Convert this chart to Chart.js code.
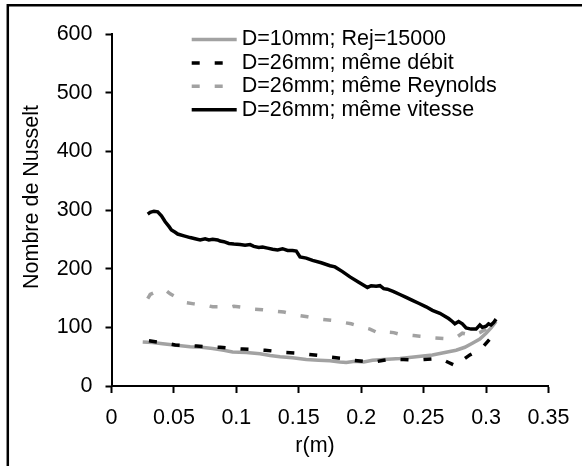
<!DOCTYPE html>
<html>
<head>
<meta charset="utf-8">
<script src="https://cdn.jsdelivr.net/npm/chart.js@4.4.1/dist/chart.umd.min.js"></script>
<style>
  html, body { margin: 0; padding: 0; background: #fff; }
  #wrap { width: 582px; height: 466px; }
</style>
</head>
<body>
<div id="wrap"><canvas id="chart" width="582" height="466"></canvas></div>
<script>
// DATA
const seriesLabels = [
  "D=10mm; Rej=15000",
  "D=26mm; même débit",
  "D=26mm; même Reynolds",
  "D=26mm; même vitesse",
];
const xTickLabels = ["0", "0.05", "0.1", "0.15", "0.2", "0.25", "0.3", "0.35"];
const yTickLabels = ["0", "100", "200", "300", "400", "500", "600"];

// D=10mm; Rej=15000 (gris continu)
const rD10 = [0.025, 0.033, 0.041, 0.050, 0.063, 0.072, 0.081, 0.090, 0.097, 0.108, 0.119, 0.127, 0.135, 0.145,
  0.156, 0.166, 0.175, 0.183, 0.188, 0.195, 0.202, 0.209, 0.218, 0.231, 0.244, 0.257, 0.267, 0.276, 0.283,
  0.289, 0.295, 0.300, 0.304, 0.308];
const nuD10 = [75, 74, 72, 70, 67, 66, 64, 61, 58, 57, 55, 52, 50, 48,
  45, 44, 43, 41, 40, 42, 41, 44, 45, 47, 50, 53, 57, 61, 66,
  73, 80, 90, 99, 110];

// D=26mm; même débit (noir pointillé)
const rDebit = [0.030, 0.040, 0.051, 0.060, 0.068, 0.078, 0.087, 0.096, 0.105, 0.114, 0.123, 0.132, 0.140, 0.149,
  0.157, 0.166, 0.176, 0.185, 0.193, 0.202, 0.211, 0.218, 0.225, 0.234, 0.243, 0.250, 0.257, 0.264, 0.270,
  0.276, 0.281, 0.287, 0.293, 0.298, 0.303, 0.308];
const nuDebit = [77, 74, 70, 69, 68, 67, 66, 64, 63, 62, 61, 59, 57, 56,
  54, 52, 49, 47, 44, 42, 41, 44, 46, 45, 44, 45, 46, 46, 40,
  34, 44, 53, 60, 68, 80, 97];

// D=26mm; même Reynolds (gris pointillé)
const rReynolds = [0.029, 0.031, 0.035, 0.040, 0.043, 0.047, 0.053, 0.060, 0.066, 0.071, 0.077, 0.081, 0.088, 0.095,
  0.098, 0.105, 0.113, 0.121, 0.129, 0.138, 0.148, 0.157, 0.167, 0.176, 0.184, 0.192, 0.200, 0.207, 0.215,
  0.220, 0.226, 0.231, 0.236, 0.242, 0.247, 0.253, 0.259, 0.266, 0.272, 0.277, 0.281, 0.285, 0.288, 0.292,
  0.295, 0.300, 0.304, 0.307];
const nuReynolds = [149, 156, 160, 163, 164, 157, 150, 142, 140, 138, 137, 135, 135, 134,
  136, 134, 131, 130, 128, 126, 121, 118, 114, 112, 109, 106, 101, 97, 89,
  92, 91, 88, 87, 86, 85, 84, 82, 81, 81, 84, 90, 88, 86, 88,
  91, 97, 102, 107];

// D=26mm; même vitesse (noir continu)
const rVitesse = [0.029, 0.031, 0.034, 0.037, 0.040, 0.043, 0.046, 0.048, 0.051, 0.053, 0.058, 0.063, 0.067, 0.071,
  0.075, 0.078, 0.081, 0.085, 0.087, 0.090, 0.094, 0.098, 0.103, 0.107, 0.111, 0.114, 0.118, 0.121, 0.125,
  0.129, 0.133, 0.137, 0.141, 0.145, 0.148, 0.151, 0.156, 0.161, 0.168, 0.175, 0.179, 0.185, 0.191, 0.198,
  0.205, 0.208, 0.212, 0.215, 0.218, 0.221, 0.226, 0.231, 0.236, 0.241, 0.246, 0.252, 0.257, 0.263, 0.267,
  0.270, 0.273, 0.275, 0.278, 0.281, 0.284, 0.288, 0.292, 0.295, 0.297, 0.300, 0.302, 0.304, 0.306, 0.308];
const nuVitesse = [293, 296, 298, 297, 290, 280, 272, 266, 262, 259, 256, 253, 251, 249,
  251, 249, 250, 249, 247, 246, 243, 242, 241, 240, 241, 238, 236, 237, 235,
  233, 232, 234, 231, 231, 230, 220, 218, 214, 210, 205, 203, 195, 186, 177,
  168, 171, 170, 171, 166, 165, 161, 156, 151, 146, 141, 135, 129, 124, 119,
  115, 110, 106, 110, 106, 99, 97, 97, 104, 100, 102, 106, 104, 108, 114];

// STYLE
const FONT = '21.5px Arial, "Liberation Sans", sans-serif';
const GREY = "#a2a2a2";

const toPoints = (xs, ys) => xs.map((x, i) => ({ x: x, y: ys[i] }));

// cadre (haut + gauche seulement)
const framePlugin = {
  id: "frame",
  beforeDraw(chart) {
    const ctx = chart.ctx;
    ctx.save();
    ctx.fillStyle = "#fff";
    ctx.fillRect(0, 0, chart.width, chart.height);
    ctx.strokeStyle = "#000";
    ctx.lineWidth = 2.5;
    ctx.beginPath();
    ctx.moveTo(7.8, chart.height);
    ctx.lineTo(7.8, 5.3);
    ctx.lineTo(chart.width, 5.3);
    ctx.stroke();
    ctx.restore();
  },
};

// légende + titres des axes
const textPlugin = {
  id: "texts",
  afterDraw(chart) {
    const ctx = chart.ctx;
    ctx.save();
    ctx.font = FONT;
    ctx.fillStyle = "#000";
    ctx.textBaseline = "middle";
    chart.data.datasets.forEach((ds, row) => {
      const y = 39.5 + row * 23.4;
      ctx.strokeStyle = ds.borderColor;
      ctx.lineWidth = ds.borderWidth;
      ctx.setLineDash(ds.borderDash || []);
      ctx.beginPath();
      ctx.moveTo(191.7, y);
      ctx.lineTo(236.7, y);
      ctx.stroke();
      ctx.fillText(ds.label, 241.7, y);
    });
    ctx.setLineDash([]);
    ctx.textAlign = "center";
    ctx.fillText("r(m)", 315, 446);
    ctx.translate(32, 197);
    ctx.rotate(-Math.PI / 2);
    ctx.fillText("Nombre de Nusselt", 0, 0);
    ctx.restore();
  },
};

const datasets = [
  { label: seriesLabels[0], data: toPoints(rD10, nuD10), borderColor: GREY, borderWidth: 3.5, order: 4 },
  { label: seriesLabels[1], data: toPoints(rDebit, nuDebit), borderColor: "#000", borderWidth: 3.5, borderDash: [8, 15], order: 3 },
  { label: seriesLabels[2], data: toPoints(rReynolds, nuReynolds), borderColor: GREY, borderWidth: 3.5, borderDash: [8, 15], order: 2 },
  { label: seriesLabels[3], data: toPoints(rVitesse, nuVitesse), borderColor: "#000", borderWidth: 3.5, order: 1 },
].map((d) => Object.assign(d, { showLine: true, pointRadius: 0, tension: 0, borderCapStyle: "butt", fill: false }));

new Chart(document.getElementById("chart"), {
  type: "scatter",
  data: { datasets: datasets },
  options: {
    responsive: false,
    animation: false,
    devicePixelRatio: 1,
    layout: { padding: { left: 10, right: 33.5, top: 34, bottom: 0 } },
    plugins: { legend: { display: false }, tooltip: { enabled: false } },
    scales: {
      x: {
        type: "linear",
        min: 0,
        max: 0.35,
        afterFit: (scale) => { scale.height = 80; },
        ticks: {
          stepSize: 0.05,
          color: "#000",
          padding: 12,
          font: { family: 'Arial, "Liberation Sans", sans-serif', size: 21.5 },
          maxRotation: 0,
          callback: (v, i) => xTickLabels[i],
        },
        grid: { drawOnChartArea: false, drawTicks: true, tickLength: 7, tickWidth: 2, color: "#000" },
        border: { display: true, color: "#000", width: 2 },
      },
      y: {
        min: 0,
        max: 600,
        afterFit: (scale) => { scale.width = 101.5; },
        ticks: {
          stepSize: 100,
          color: "#000",
          padding: 13,
          font: { family: 'Arial, "Liberation Sans", sans-serif', size: 21.5 },
          callback: (v, i) => yTickLabels[i],
        },
        grid: { drawOnChartArea: false, drawTicks: true, tickLength: 6, tickWidth: 2, color: "#000" },
        border: { display: true, color: "#000", width: 2 },
      },
    },
  },
  plugins: [framePlugin, textPlugin],
});
</script>
</body>
</html>
